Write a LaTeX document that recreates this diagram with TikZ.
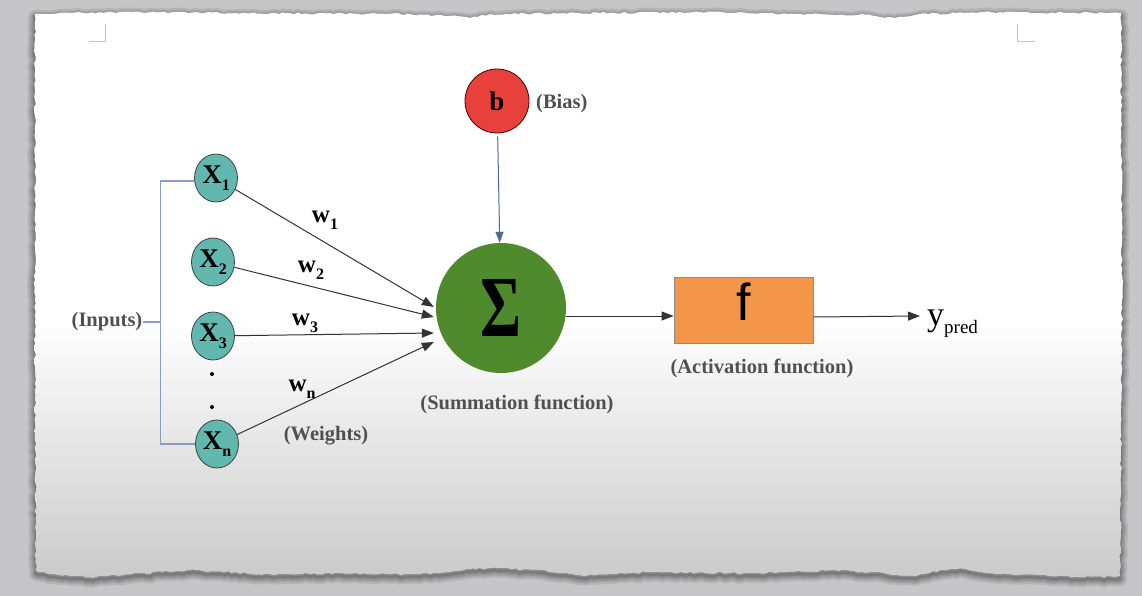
\documentclass[tikz,border=0pt]{standalone}
\usepackage{fontspec}
\usepackage{graphicx}
\setmainfont{Liberation Serif}
\newfontfamily\sansf{Liberation Sans}
\usetikzlibrary{arrows.meta,decorations.pathmorphing,shapes.geometric,calc}

\definecolor{bgc}{HTML}{C6C6C8}
\definecolor{paperbot}{HTML}{C8C8C8}
\definecolor{tealc}{HTML}{62B8AE}
\definecolor{sumg}{HTML}{4F8A2D}
\definecolor{biasr}{HTML}{E8403B}
\definecolor{orng}{HTML}{F3964A}
\definecolor{lblc}{HTML}{505050}
\definecolor{brkc}{HTML}{8A9CC0}
\definecolor{biasa}{HTML}{4D6A9A}
\definecolor{markc}{HTML}{C4C4C4}

\newcommand{\xlab}[1]{{\fontsize{27}{27}\selectfont\bfseries X}\raisebox{-7pt}{\fontsize{16}{16}\selectfont\bfseries #1}}
\newcommand{\wlab}[1]{{\fontsize{25}{25}\selectfont\bfseries w}\raisebox{-7pt}{\fontsize{16}{16}\selectfont\bfseries #1}}
\newcommand{\paperpath}{decorate[decoration={random steps,segment length=4pt,amplitude=1pt}]{
 (35,14) -- (120,12) -- (250,13) -- (400,14) -- (450,16) -- (470,18) -- (490,14) -- (600,13) -- (700,12) -- (800,14) -- (870,15) -- (895,18) -- (920,14) -- (1000,12) -- (1121,13) -- (1122,300) -- (1120,576) -- (1080,577) -- (1040,575) -- (1000,574) -- (960,568) -- (940,570) -- (915,576) -- (870,572) -- (830,570) -- (750,573) -- (650,572) -- (580,575) -- (540,570) -- (500,568) -- (470,569) -- (420,574) -- (330,573) -- (260,574) -- (220,571) -- (190,570) -- (130,574) -- (90,577) -- (60,575) -- (36,571) -- (35,300) -- cycle}}

\tikzset{
  inp/.style={ellipse, draw=black!75, line width=0.8pt, fill=tealc,
    minimum width=43pt, minimum height=48pt, inner sep=0pt},
  lbl/.style={text=lblc, font=\fontsize{20.5}{24}\selectfont\bfseries, inner sep=0pt},
  wl/.style={inner sep=0pt},
  wire/.style={draw=black!80, line width=1pt, -{Triangle[length=12pt,width=9pt]}},
  brkline/.style={draw=brkc, line width=1.1pt},
  dotn/.style={circle, fill=black, minimum size=4pt, inner sep=0pt},
}

\begin{document}
\begin{tikzpicture}[x=1pt,y=-1pt]
\useasboundingbox (0,0) rectangle (1142,596);
\fill[bgc] (0,0) rectangle (1142,596);

% paper shadow
\foreach \w in {14,10,7,4,2}{
  \pgfmathsetseed{11}
  \begin{scope}[shift={(0,3)}]
    \draw[black,opacity=0.09,line width=\w pt, line join=round] \paperpath;
  \end{scope}
}
% paper
\pgfmathsetseed{11}
\fill[white] \paperpath;
\begin{scope}
  \pgfmathsetseed{11}
  \clip \paperpath;
  \shade[top color=white, bottom color=paperbot] (0,320) rectangle (1142,590);
\end{scope}

% corner marks
\draw[markc, line width=1pt] (89,42) -- (105,42) -- (105,24);
\draw[markc, line width=1pt] (1017,24) -- (1017,42) -- (1035,42);

% inputs
\node[inp] (x1) at (216,178) {\xlab{1}};
\node[inp] (x2) at (213,262) {\xlab{2}};
\node[inp] (x3) at (213,336) {\xlab{3}};
\node[inp] (xn) at (217,444) {\xlab{n}};
\node[dotn] (d1) at (212,374) {};
\node[dotn] (d2) at (212,407) {};

\node[lbl] (inp) at (107,322) {(Inputs)};
\draw[brkline] ([yshift=-3pt]x1.west) -- ++(-34,0) coordinate (bt) |- (xn.west);
\draw[brkline] (inp.east) -- (inp.east -| bt);

% summation
\node[circle, fill=sumg, minimum size=130pt, inner sep=0pt] (sum) at (501,308)
  {\resizebox{41pt}{57pt}{\bfseries Σ}};
\node[lbl] (suml) at (517,404) {(Summation function)};

% bias
\node[circle, fill=biasr, draw=black!70!red, line width=0.8pt, minimum size=64pt, inner sep=0pt] (b) at (497,101)
  {\fontsize{27}{27}\selectfont\bfseries b};
\node[lbl, anchor=west] (biasl) at (536,104) {(Bias)};
\draw[draw=biasa, line width=1pt, shorten <=3pt, -{Triangle[length=11pt,width=8pt]}] (b) -- (sum);

% weights
\draw[wire] (x1) -- ($(sum.west)+(-2,-1)$);
\draw[wire] (x2) -- ($(sum.west)+(-2,9)$);
\draw[wire] (x3) -- ($(sum.west)+(-2,25)$);
\draw[wire] (xn) -- ($(sum.west)+(-2,34)$);
\node[wl] (w1) at (325,220) {\wlab{1}};
\node[wl] (w2) at (311,270) {\wlab{2}};
\node[wl] (w3) at (305,323) {\wlab{3}};
\node[wl] (wn) at (302,389) {\wlab{n}};
\node[lbl] (wts) at (326,436) {(Weights)};

% activation
\node[rectangle, fill=orng, draw=black!45, line width=0.8pt, minimum width=139pt, minimum height=66pt, inner sep=0pt] (act) at (743.5,310)
  {\raisebox{-10pt}[0pt][0pt]{\sansf\fontsize{52}{52}\selectfont f}};
\node[lbl] (actl) at (762,368) {(Activation function)};
\draw[wire] ($(sum.east)+(0,8)$) -- ($(act.west)+(0,6)$);

% output
\node[inner sep=0pt, anchor=base west] (yp) at (927,325)
  {{\fontsize{34}{34}\selectfont y}\raisebox{-8pt}{\fontsize{19}{19}\selectfont pred}};
\coordinate (yend) at (920,316);
\draw[wire] ($(act.east)+(0,7)$) -- (yend);
\end{tikzpicture}
\end{document}
